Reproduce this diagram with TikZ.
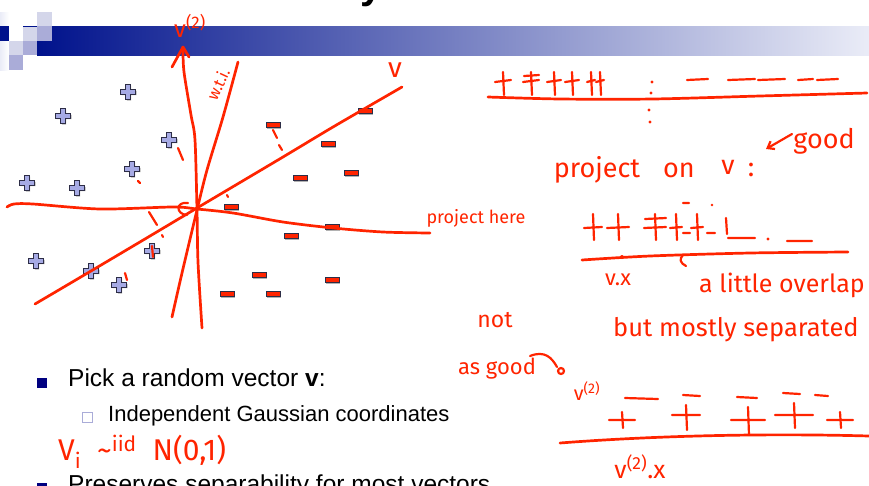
\documentclass[tikz,border=0pt]{standalone}
\usepackage{fontspec}
\setmainfont{Liberation Sans}
\newfontfamily\hand{Fira Sans}
\usetikzlibrary{arrows.meta,calc}
\definecolor{TitleNavy}{RGB}{0,18,140}
\definecolor{TitleMist}{RGB}{234,236,247}
\definecolor{CellLight}{RGB}{212,214,234}
\definecolor{CellMid}{RGB}{170,172,216}
\definecolor{PlusFill}{RGB}{166,170,228}
\definecolor{MarkEdge}{RGB}{45,45,70}
\definecolor{Ink}{RGB}{255,36,0}
\definecolor{BulletNavy}{RGB}{0,0,128}

\begin{document}
\begin{tikzpicture}[x=1pt, y=-1pt, every node/.style={inner sep=0pt}]
\tikzset{
  ink/.style={draw=Ink, line width=2.7pt, line cap=round, line join=round},
  thinink/.style={ink, line width=2.2pt},
  hw/.style={text=Ink, font={\hand\fontsize{#1}{#1}\selectfont}},
  slide/.style={anchor=base west, font={\fontsize{#1}{#1}\selectfont}},
  plusmk/.pic={
    \fill[black!30] (-6.5,-1.2)--(-1.2,-1.2)--(-1.2,-6.5)--(3.2,-6.5)--(3.2,-1.2)--(8.5,-1.2)--(8.5,3.2)--(3.2,3.2)--(3.2,8.5)--(-1.2,8.5)--(-1.2,3.2)--(-6.5,3.2)--cycle;
    \filldraw[fill=PlusFill, draw=MarkEdge, line width=0.7pt] (-7.5,-2.2)--(-2.2,-2.2)--(-2.2,-7.5)--(2.2,-7.5)--(2.2,-2.2)--(7.5,-2.2)--(7.5,2.2)--(2.2,2.2)--(2.2,7.5)--(-2.2,7.5)--(-2.2,2.2)--(-7.5,2.2)--cycle;
  },
  minusmk/.pic={
    \fill[black!30] (-6,-1.5) rectangle (8,3.5);
    \filldraw[fill=Ink, draw=MarkEdge, line width=0.7pt] (-7,-2.5) rectangle (7,2.5);
  }
}
\useasboundingbox (0,0) rectangle (869,485);

% title bar
\shade[left color=TitleNavy, right color=TitleMist] (37,26) rectangle (869,55);
\shade[left color=TitleMist, right color=white] (0,12) rectangle (9,70);
\fill[CellLight] (37,12) rectangle (52,26);
\fill[TitleNavy] (0,26) rectangle (9,41);
\fill[white] (9,26) rectangle (23,41);
\fill[CellLight] (23,26) rectangle (37,41);
\fill[TitleNavy] (23,25.5) rectangle (37,26.5);
\fill[CellMid] (37,26) rectangle (52,41);
\fill[CellLight] (9,41) rectangle (23,55);
\fill[CellMid] (23,41) rectangle (37,55);
\fill[CellMid] (9,55) rectangle (23,70);
\node[anchor=base, font={\bfseries\fontsize{40}{40}\selectfont}] (ttl) at (372,-2) {y};

% data points
\foreach \p in {(128,92),(63,116),(169,140),(132,169),(27,183),(77,188),(36,261),(91,271),(152,251),(119,285)}
  \pic at \p {plusmk};
\foreach \p in {(273,125),(365,111),(328,144),(300,178),(351,173),(231,207),(332,227),(291,236),(259,275),(332,280),(227,294),(273,294)}
  \pic at \p {minusmk};

% bullets
\fill[BulletNavy] (37,378) rectangle (47,388);
\node[slide=24.5] (pick) at (68,386.7) {Pick a random vector \textbf{v}:};
\draw[CellMid, fill=white, line width=0.8pt] (82.5,412.5) rectangle (92.5,422.5);
\node[slide=22] (indep) at (108,421.7) {Independent Gaussian coordinates};
\fill[BulletNavy] (37,483) rectangle (47,493);
\node[slide=24.5] (pres) at (68,492.5) {Preserves separability for most vectors};

% handwritten axes
\draw[ink] plot[smooth] coordinates {(35,304) (91,271) (150,236) (197,208) (283,157) (333,127) (402,87)};
\draw[ink] plot[smooth] coordinates {(7,207) (14,204) (33,204) (100,209) (173,207) (197,209) (233,213) (283,222) (333,228) (383,232) (430,233)};
\draw[ink] plot[smooth] coordinates {(202,328) (198,262) (197,210) (195,140) (191,115) (184,72) (183,50)};
\draw[ink] (172,67) -- (183,47) -- (189,57);
\draw[ink] plot[smooth] coordinates {(172,317) (182,273) (197,210) (207,170) (223,117) (238,62)};
\draw[thinink] (178,148)--(183,160) (138,181)--(140,183) (149,212)--(157,225) (162,235)--(163,237)
  (125,273)--(127,280) (152,246)--(153,257) (273,130)--(277,138) (279,145)--(282,150) (227,195)--(228,197);
\draw[thinink] (188,203) .. controls (176,201) and (175,214) .. (187,215);

\node[hw=24] (vtop) at (190,26) {v\textsuperscript{(2)}};
\node[hw=28] (vlab) at (395,70) {v};
\node[hw=16, rotate=65] (wti) at (218,84) {w.t.i.};
\node[hw=18] (here) at (476,218) {project here};

% projection on v
\draw[ink] plot[smooth] coordinates {(488,97) (560,99) (653,99) (760,96) (867,93)};
\foreach \x/\w in {503/8, 531/8, 554/7, 572/7, 591/4, 600/4}
  \draw[thinink] (\x-\w,82) -- (\x+\w,80) (\x,72) -- (\x+1,95);
\draw[thinink] (524,76) -- (539,75);
\foreach \a/\b in {687/708, 728/755, 758/785, 798/813, 817/838}
  \draw[thinink] (\a,80) -- (\b,79);
\fill[Ink] (652,82) circle (1.6) (651,93) circle (1.6) (649,110) circle (1.6) (650,122) circle (1.6);

\node[hw=27] (proj) at (597,170) {project};
\node[hw=27] (on) at (679,170) {on};
\node[hw=27] (vee) at (728,167) {v};
\node[hw=27] (col) at (751,170) {:};
\node[hw=27] (good) at (824,141) {good};
\draw[thinink, -{Straight Barb[length=6pt,width=9pt]}] (792,134) -- (766,149);

% projection on random v
\draw[ink] plot[smooth] coordinates {(582,260) (650,256) (750,253) (848,252)};
\fill[Ink] (622,257) circle (2);
\foreach \x/\w in {593/9, 618/11, 655/11, 676/6, 697/6}
  \draw[thinink] (\x-\w,228) -- (\x+\w,227) (\x,214) -- (\x+1,240);
\draw[thinink] (645,219) -- (666,218) (683,203) -- (689,203) (683,233) -- (690,233) (707,233) -- (715,233)
  (726,218) -- (727,234) (728,238) -- (755,238) (787,241) -- (812,241);
\fill[Ink] (712,205) circle (1.4) (768,239) circle (1.6);
\draw[thinink] (683,255) .. controls (679,259) and (680,263) .. (686,266);

\node[hw=22] (vx) at (618,280) {v.x};
\node[hw=25, anchor=west] (little) at (699,285) {a little overlap};
\node[hw=25.5, anchor=west] (mostly) at (613,330) {but mostly separated};
\node[hw=23] (not) at (495,320) {not};
\node[hw=22] (asgood) at (497,369) {as good};
\draw[thinink] (530,356) .. controls (545,350) and (552,358) .. (557,367);
\draw[thinink] (561,371) circle (3);

% projection on v(2)
\node[hw=20] (vtwo) at (587,391) {v\textsuperscript{(2)}};
\foreach \a/\b/\y in {625/658/398, 683/700/395, 737/757/397, 783/800/393, 815/828/395}
  \draw[thinink] (\a,\y) -- (\b,\y+1);
\foreach \x/\w/\y/\t/\b in {622/13/420/412/428, 686/14/415/405/430, 748/17/420/407/435, 794/19/415/403/428, 840/13/420/412/428}
  \draw[thinink] (\x-\w,\y) -- (\x+\w,\y) (\x,\t) -- (\x+1,\b);
\draw[ink] (560,443) .. controls (650,436) and (760,433) .. (869,436);
\node[hw=25] (vtwox) at (640,467) {v\textsuperscript{(2)}.x};

\node[hw=30, anchor=west] (iid) at (58,452) {V\textsubscript{i}\ \ \textasciitilde\textsuperscript{iid}\ \ N(0,1)};
\end{tikzpicture}
\end{document}
